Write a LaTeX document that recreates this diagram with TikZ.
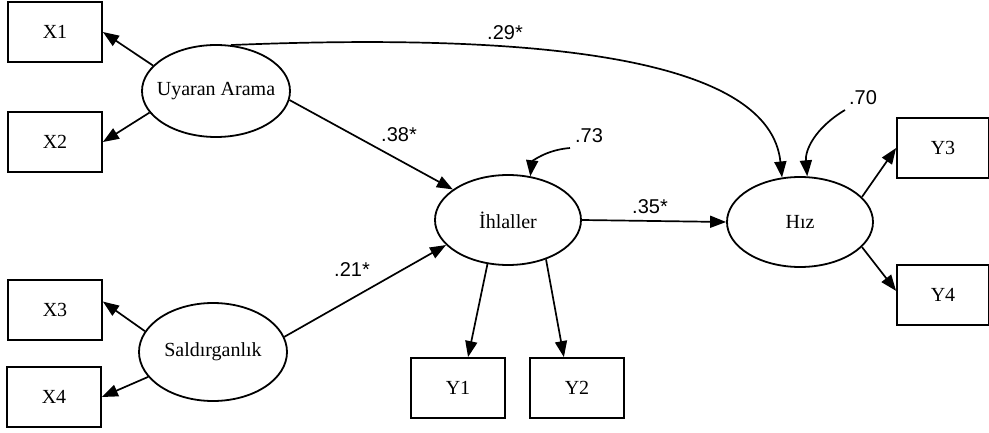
\documentclass[tikz,border=0pt]{standalone}
\usepackage{fontspec}
\setmainfont{Liberation Serif}
\newfontfamily\numfont{Liberation Sans}
\usetikzlibrary{arrows.meta,shapes.geometric}
\begin{document}
\begin{tikzpicture}[x=1pt,y=-1pt,
  box/.style={draw,line width=1.8pt,rectangle,minimum width=94pt,minimum height=60pt,inner sep=0pt,font=\fontsize{20}{24}\selectfont},
  lat/.style={draw,line width=1.8pt,ellipse,inner sep=0pt,font=\fontsize{20}{24}\selectfont},
  arr/.style={line width=1.7pt,-{Triangle[length=16pt,width=12pt]}},
  coef/.style={font=\numfont\fontsize{20}{24}\selectfont,inner sep=0pt}]
\useasboundingbox (0,0) rectangle (989,433);
% observed boxes
\node[box] (x1) at (55,32) {X1};
\node[box] (x2) at (55,142) {X2};
\node[box] (x3) at (55,310) {X3};
\node[box] (x4) at (54,397) {X4};
\node[box] (y1) at (458,388) {Y1};
\node[box] (y2) at (577,388) {Y2};
\node[box,minimum width=92pt] (y3) at (943,148) {Y3};
\node[box,minimum width=92pt] (y4) at (943,295) {Y4};
% latent ellipses
\node[lat,minimum width=148pt,minimum height=92pt] (ua) at (216,91) {\makebox[0pt]{Uyaran Arama}};
\node[lat,minimum width=148pt,minimum height=98pt] (sa) at (213,352) {\makebox[0pt]{Saldırganlık}};
\node[lat,minimum width=146pt,minimum height=90pt] (ih) at (508,220) {\makebox[0pt]{İhlaller}};
\node[lat,minimum width=146pt,minimum height=90pt] (hz) at (800,222) {\makebox[0pt]{Hız}};
% residual starts
\coordinate (r1) at (570,148);
\coordinate (r2) at (845,110);
% loadings
\draw[arr] (ua.158) -- (x1.east);
\draw[arr] (ua.198) -- (x2.east);
\draw[arr] (sa.163) -- (x3.10);
\draw[arr] (sa.201) -- (x4.east);
\draw[arr] (ih.245) -- (y1.72);
\draw[arr] (ih.314) -- (y2.113);
\draw[arr] (hz.22) -- (y3.west);
\draw[arr] (hz.338) -- (y4.175);
% structural paths
\draw[arr] (ua.353) -- (ih.151);
\draw[arr] (sa.12) -- (ih.202);
\draw[arr] (ih.east) -- (hz.west);
\draw[arr] (ua.72) .. controls (550,32) and (770,60) .. (hz.112);
\draw[arr] (r1) .. controls (545,150) and (532,162) .. (ih.63);
\draw[arr] (r2) .. controls (815,128) and (805,150) .. (hz.81);
% coefficients
\node[coef] (c29) at (505,33) {.29*};
\node[coef] (c38) at (399,135) {.38*};
\node[coef] (c21) at (352,270) {.21*};
\node[coef] (c35) at (650,207) {.35*};
\node[coef] (c73) at (589,136) {.73};
\node[coef] (c70) at (863,98) {.70};
\end{tikzpicture}
\end{document}
